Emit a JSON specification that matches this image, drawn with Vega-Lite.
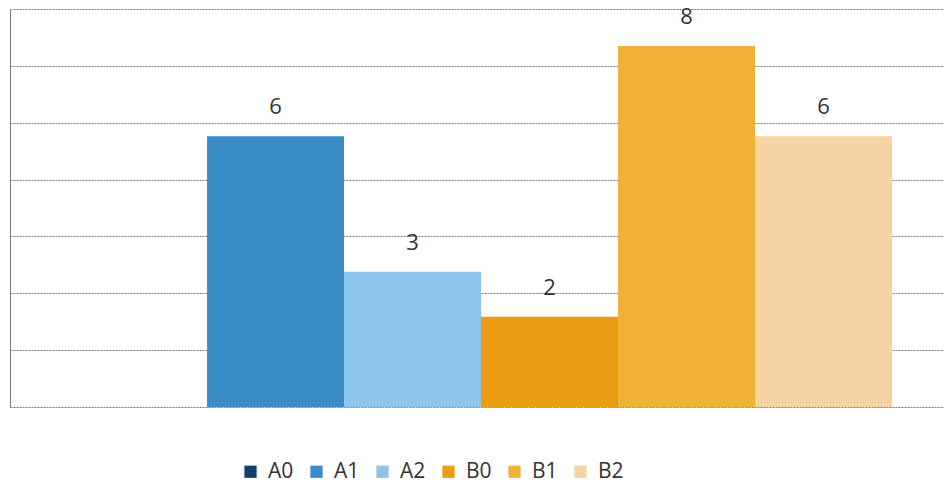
{
  "$schema": "https://vega.github.io/schema/vega-lite/v6.json",
  "width": 934,
  "height": 398,
  "autosize": {"type": "none"},
  "padding": {"left": 10, "top": 9, "right": 0, "bottom": 82},
  "background": "white",
  "config": {
    "view": {"stroke": null},
    "font": "Open Sans"
  },
  "data": {
    "values": [
      {"series": "A0", "value": 0},
      {"series": "A1", "value": 6},
      {"series": "A2", "value": 3},
      {"series": "B0", "value": 2},
      {"series": "B1", "value": 8},
      {"series": "B2", "value": 6}
    ]
  },
  "encoding": {
    "x": {
      "field": "series",
      "type": "nominal",
      "sort": ["A0", "A1", "A2", "B0", "B1", "B2"],
      "scale": {"paddingInner": 0, "paddingOuter": 0.409, "align": 0.536},
      "axis": null
    },
    "y": {
      "field": "value",
      "type": "quantitative",
      "scale": {"domain": [0, 8.82], "nice": false, "zero": true},
      "axis": {
        "values": [0, 1.26, 2.52, 3.78, 5.04, 6.3, 7.56, 8.82],
        "labels": false,
        "ticks": false,
        "title": null,
        "domain": true,
        "domainColor": "#7a7a7a",
        "domainWidth": 1,
        "grid": true,
        "gridColor": "#7a7a7a",
        "gridWidth": 1,
        "gridDash": [2, 1]
      }
    }
  },
  "layer": [
    {
      "mark": {"type": "bar"},
      "encoding": {
        "color": {
          "field": "series",
          "type": "nominal",
          "scale": {
            "domain": ["A0", "A1", "A2", "B0", "B1", "B2"],
            "range": ["#12406e", "#3a8cc6", "#8dc4ec", "#ec9c12", "#f0b236", "#f5d3a2"]
          },
          "legend": {
            "title": null,
            "orient": "none",
            "direction": "horizontal",
            "legendX": 230,
            "legendY": 452,
            "symbolType": "square",
            "symbolSize": 150,
            "symbolStrokeWidth": 0,
            "labelFontSize": 21,
            "labelColor": "#333333",
            "labelFont": "Open Sans",
            "columnPadding": 12,
            "labelOffset": 7
          }
        }
      }
    },
    {
      "transform": [{"filter": "datum.value > 0"}],
      "mark": {"type": "text", "dy": -29, "fontSize": 22, "color": "#333333", "font": "Open Sans"},
      "encoding": {
        "text": {"field": "value", "type": "quantitative", "format": ".0f"}
      }
    }
  ]
}
